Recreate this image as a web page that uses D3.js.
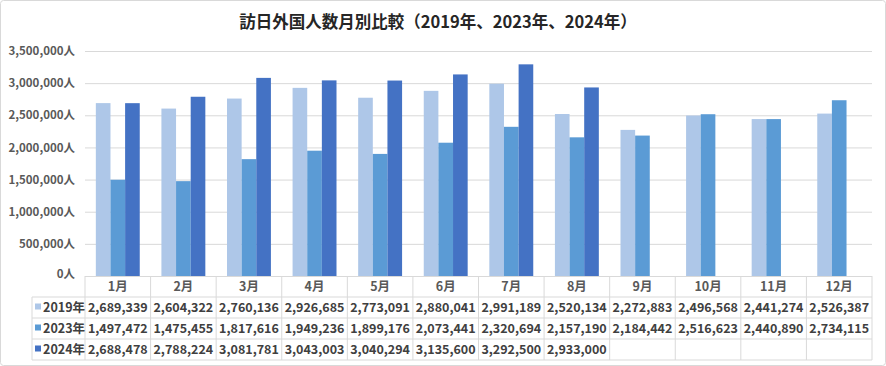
<!DOCTYPE html>
<html><head><meta charset="utf-8">
<script src="https://cdn.jsdelivr.net/npm/d3@7"></script>
<style>body{margin:0;background:#fff}svg{display:block}</style>
</head><body>
<svg id="c" width="886" height="366"></svg>
<script>
const months = ["1月","2月","3月","4月","5月","6月","7月","8月","9月","10月","11月","12月"];
const seriesNames = ["2019年","2023年","2024年"];
const v2019 = [2689339,2604322,2760136,2926685,2773091,2880041,2991189,2520134,2272883,2496568,2441274,2526387];
const v2023 = [1497472,1475455,1817616,1949236,1899176,2073441,2320694,2157190,2184442,2516623,2440890,2734115];
const v2024 = [2688478,2788224,3081781,3043003,3040294,3135600,3292500,2933000,null,null,null,null];
const yTicks = [0,500000,1000000,1500000,2000000,2500000,3000000,3500000];
const colors = ["#AEC7E8","#5B9BD5","#4472C4"];
const title = "訪日外国人数月別比較（2019年、2023年、2024年）";

const series = [v2019, v2023, v2024];
const font = "'Noto Sans CJK JP','Noto Sans',sans-serif";
const svg = d3.select("#c");
svg.append("rect").attr("x",0.5).attr("y",0.5).attr("width",885).attr("height",365)
  .attr("rx",3).attr("fill","#fff").attr("stroke","#d9d9d9");

const L=85, R=872, T=51, B=276;
const x = d3.scaleBand().domain(months).range([L,R]).paddingInner(0).paddingOuter(0);
const xs = d3.scaleBand().domain(seriesNames).range([0,x.bandwidth()]).paddingInner(0).paddingOuter(0.74);
const y = d3.scaleLinear().domain([0,3500000]).range([B,T]);

svg.append("text").attr("x",438).attr("y",28).attr("text-anchor","middle")
  .attr("font-family",font).attr("font-weight","bold").attr("font-size",16.5).attr("fill","#262626").text(title);

// grid
svg.append("g").selectAll("line").data(yTicks.filter(d=>d>0)).join("line")
  .attr("x1",L).attr("x2",R).attr("y1",d=>y(d)+0.5).attr("y2",d=>y(d)+0.5)
  .attr("stroke","#d9d9d9").attr("stroke-width",1);

// y axis via d3 axis
const fmt = d3.format(",");
const ya = svg.append("g").attr("transform",`translate(${L-10},0)`)
  .call(d3.axisLeft(y).tickValues(yTicks).tickSize(0).tickPadding(0).tickFormat(d=>fmt(d)+"人"));
ya.select(".domain").remove();
ya.selectAll("text").attr("font-family",font).attr("font-weight","bold").attr("font-size",11.5).attr("fill","#595959");
ya.selectAll(".tick").filter(d=>d===0).select("text").attr("dy","0.1em");

// bars
const g = svg.append("g");
months.forEach((m,i)=>{
  series.forEach((s,j)=>{
    if(s[i]==null) return;
    g.append("rect").attr("x",x(m)+xs(seriesNames[j])).attr("width",xs.bandwidth())
      .attr("y",y(s[i])).attr("height",B-y(s[i])).attr("fill",colors[j]);
  });
});

// table
const rowH = 21, legL = 32;
const rows = [B, B+rowH, B+2*rowH, B+3*rowH, B+4*rowH];
const tg = svg.append("g").attr("stroke","#d9d9d9").attr("stroke-width",1).attr("fill","none");
tg.append("line").attr("x1",L).attr("x2",R).attr("y1",rows[0]+0.5).attr("y2",rows[0]+0.5);
for(let k=1;k<5;k++) tg.append("line").attr("x1",legL).attr("x2",R).attr("y1",rows[k]).attr("y2",rows[k]);
tg.append("line").attr("x1",legL).attr("x2",legL).attr("y1",rows[1]).attr("y2",rows[4]);
months.forEach(m=>{
  tg.append("line").attr("x1",x(m)).attr("x2",x(m)).attr("y1",rows[0]).attr("y2",rows[4]);
});
tg.append("line").attr("x1",R).attr("x2",R).attr("y1",rows[0]).attr("y2",rows[4]);

const txt = svg.append("g").attr("font-family",font).attr("font-weight","bold").attr("font-size",12.5).attr("fill","#404040");
months.forEach(m=>{
  txt.append("text").attr("x",x(m)+x.bandwidth()/2).attr("y",rows[0]+rowH/2+4.5).attr("text-anchor","middle").attr("fill","#595959").text(m);
});
series.forEach((s,j)=>{
  const cy = rows[j+1]+rowH/2;
  svg.append("rect").attr("x",35).attr("y",cy-4).attr("width",6).attr("height",6).attr("fill",colors[j]);
  txt.append("text").attr("x",43).attr("y",cy+4.5).text(seriesNames[j]);
  months.forEach((m,i)=>{
    if(s[i]==null) return;
    txt.append("text").attr("x",x(m)+x.bandwidth()/2).attr("y",cy+4.5).attr("text-anchor","middle").text(fmt(s[i]));
  });
});
</script>
</body></html>
